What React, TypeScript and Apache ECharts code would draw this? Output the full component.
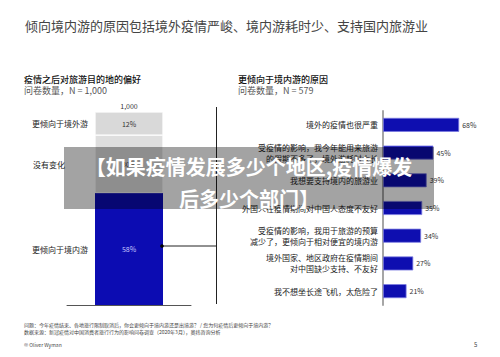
import React, { useEffect, useRef } from "react";
import * as echarts from "echarts";

const prefCategories = ["更倾向于境内游", "没有变化", "更倾向于境外游"];
const prefValues = [58, 30, 12];
const prefColors = ["#0c0cb2", "#dedede", "#d9d9d9"];
const prefLabelColors = ["#c8c8ff", "#333333", "#333333"];
const prefLabelGap = [7, 30, 7];
const sampleLabel = ["1,000"];

const reasonCategories = [
  "境外的疫情也很严重",
  "受疫情的影响，我今年能用来旅游\n的假期不多了，境外游耗时太长",
  "我想要支持境内的旅游业",
  "外国人在疫情期间对中国人态度不友好",
  "受疫情的影响，我用于旅游的预算\n减少了，更倾向于相对便宜的境内游",
  "境外国家、地区政府在疫情期间\n对中国缺少支持、不友好",
  "我不想坐长途飞机，太危险了",
];
const reasonValues = [68, 45, 39, 35, 34, 27, 21];

const FONT = "'Noto Sans CJK SC', 'Noto Sans', sans-serif";

export default function App() {
  const ref = useRef<HTMLDivElement>(null);
  useEffect(() => {
    if (!ref.current) return;
    const chart = echarts.init(ref.current, null, { renderer: "svg" });

    const leftSeries: any[] = prefCategories.map((name, i) => ({
      type: "bar",
      name,
      xAxisIndex: 0,
      yAxisIndex: 0,
      stack: "pref",
      barWidth: 68,
      data: [prefValues[i]],
      itemStyle: { color: prefColors[i], borderColor: "#ffffff", borderWidth: i === 0 ? 0 : 0.6 },
      label: {
        show: true,
        position: "inside",
        formatter: "{c}%",
        fontSize: 7,
        fontFamily: FONT,
        color: prefLabelColors[i],
      },
    }));
    const leftNameSeries: any[] = prefCategories.map((name, i) => ({
      type: "bar",
      name: name + "_lbl",
      xAxisIndex: 0,
      yAxisIndex: 0,
      stack: "prefLbl",
      barWidth: 68,
      barGap: "-100%",
      data: [prefValues[i]],
      itemStyle: { color: "rgba(0,0,0,0)" },
      z: 1,
      label: {
        show: true,
        position: "left",
        distance: prefLabelGap[i],
        formatter: name,
        fontSize: 8,
        fontFamily: FONT,
        color: "#1a1a1a",
      },
    }));

    const txt = (text: string, x: number, y: number, size: number, color: string, extra: any = {}) => ({
      type: "text",
      x,
      y,
      z: 50,
      style: {
        text,
        fill: color,
        fontSize: size,
        fontFamily: FONT,
        verticalAlign: "middle",
        align: "left",
        ...extra,
      },
    });

    chart.setOption({
      animation: false,
      backgroundColor: "#ffffff",
      grid: [
        { left: 67, top: 112, width: 124, height: 193 },
        { left: 383, top: 111, width: 112, height: 194 },
      ],
      xAxis: [
        {
          type: "category",
          gridIndex: 0,
          position: "bottom",
          data: sampleLabel,
          axisLine: { show: true, lineStyle: { color: "#555555", width: 1 } },
          axisTick: { show: false },
          axisLabel: { show: false },
        },
        {
          type: "category",
          gridIndex: 0,
          position: "top",
          data: sampleLabel,
          axisLine: { show: false },
          axisTick: { show: false },
          axisLabel: { show: true, fontSize: 7, color: "#333333", fontFamily: FONT, margin: 3 },
        },
        {
          type: "value",
          gridIndex: 1,
          min: 0,
          max: 100,
          show: false,
        },
      ],
      yAxis: [
        { type: "value", gridIndex: 0, min: 0, max: 100, show: false },
        {
          type: "category",
          gridIndex: 1,
          inverse: true,
          data: reasonCategories,
          axisLine: { show: true, lineStyle: { color: "#a6a6a6", width: 2 } },
          axisTick: { show: false },
          axisLabel: {
            fontSize: 8,
            lineHeight: 11,
            color: "#1a1a1a",
            fontFamily: FONT,
            margin: 5,
            align: "right",
          },
        },
      ],
      series: [
        ...leftSeries,
        ...leftNameSeries,
        {
          type: "bar",
          name: "reasons",
          xAxisIndex: 2,
          yAxisIndex: 1,
          barWidth: 14,
          data: reasonValues,
          itemStyle: { color: "#0e0eb0", borderColor: "#7a7ae0", borderWidth: 0.8 },
          label: {
            show: true,
            position: "right",
            distance: 3,
            formatter: "{c}%",
            fontSize: 7,
            fontFamily: FONT,
            color: "#333333",
          },
        },
      ],
      graphic: [
        txt("倾向境内游的原因包括境外疫情严峻、境内游耗时少、支持国内旅游业", 25, 25, 13, "#444444"),
        txt("疫情之后对旅游目的地的偏好", 24, 79, 9, "#111111", { fontWeight: 500 }),
        txt("问卷数量，N = 1,000", 24, 90, 9, "#555555"),
        txt("更倾向于境内游的原因", 238, 79, 9, "#111111", { fontWeight: 500 }),
        txt("问卷数量，N = 579", 238, 90, 9, "#555555"),
        txt("问题：今年疫情结束、各地旅行限制取消后，你会更倾向于境内游还是出境游？ / 您为何疫情后更倾向于境内游？", 24, 324, 5, "#444444"),
        txt("数据来源：新冠疫情对中国消费者旅行行为的影响问卷调查（2020年3月），奥纬咨询分析", 24, 331, 5, "#444444"),
        txt("© Oliver Wyman", 24, 344, 5, "#444444"),
        txt("5", 474, 344, 6, "#444444"),
        {
          type: "line",
          z: 40,
          shape: { x1: 216.5, y1: 107, x2: 216.5, y2: 304 },
          style: { stroke: "#222222", lineWidth: 1 },
        },
        {
          type: "line",
          z: 40,
          shape: { x1: 162, y1: 246, x2: 216.5, y2: 246 },
          style: { stroke: "#222222", lineWidth: 1 },
        },
        {
          type: "circle",
          z: 41,
          shape: { cx: 162, cy: 246, r: 1.8 },
          style: { fill: "#000000" },
        },
        {
          type: "rect",
          z: 100,
          shape: { x: 64, y: 147, width: 370, height: 62 },
          style: { fill: "rgba(0,0,0,0.36)" },
        },
        {
          type: "text",
          z: 101,
          x: 249,
          y: 182,
          style: {
            text: "【如果疫情发展多少个地区,疫情爆发\n后多少个部门】",
            fill: "#ffffff",
            fontSize: 20,
            fontWeight: "bold",
            fontFamily: FONT,
            lineHeight: 32,
            align: "center",
            verticalAlign: "middle",
          },
        },
      ],
    });
    return () => chart.dispose();
  }, []);
  return (
    <div
      ref={ref}
      style={{ position: "absolute", left: 0, top: 0, width: 500, height: 357 }}
    />
  );
}
